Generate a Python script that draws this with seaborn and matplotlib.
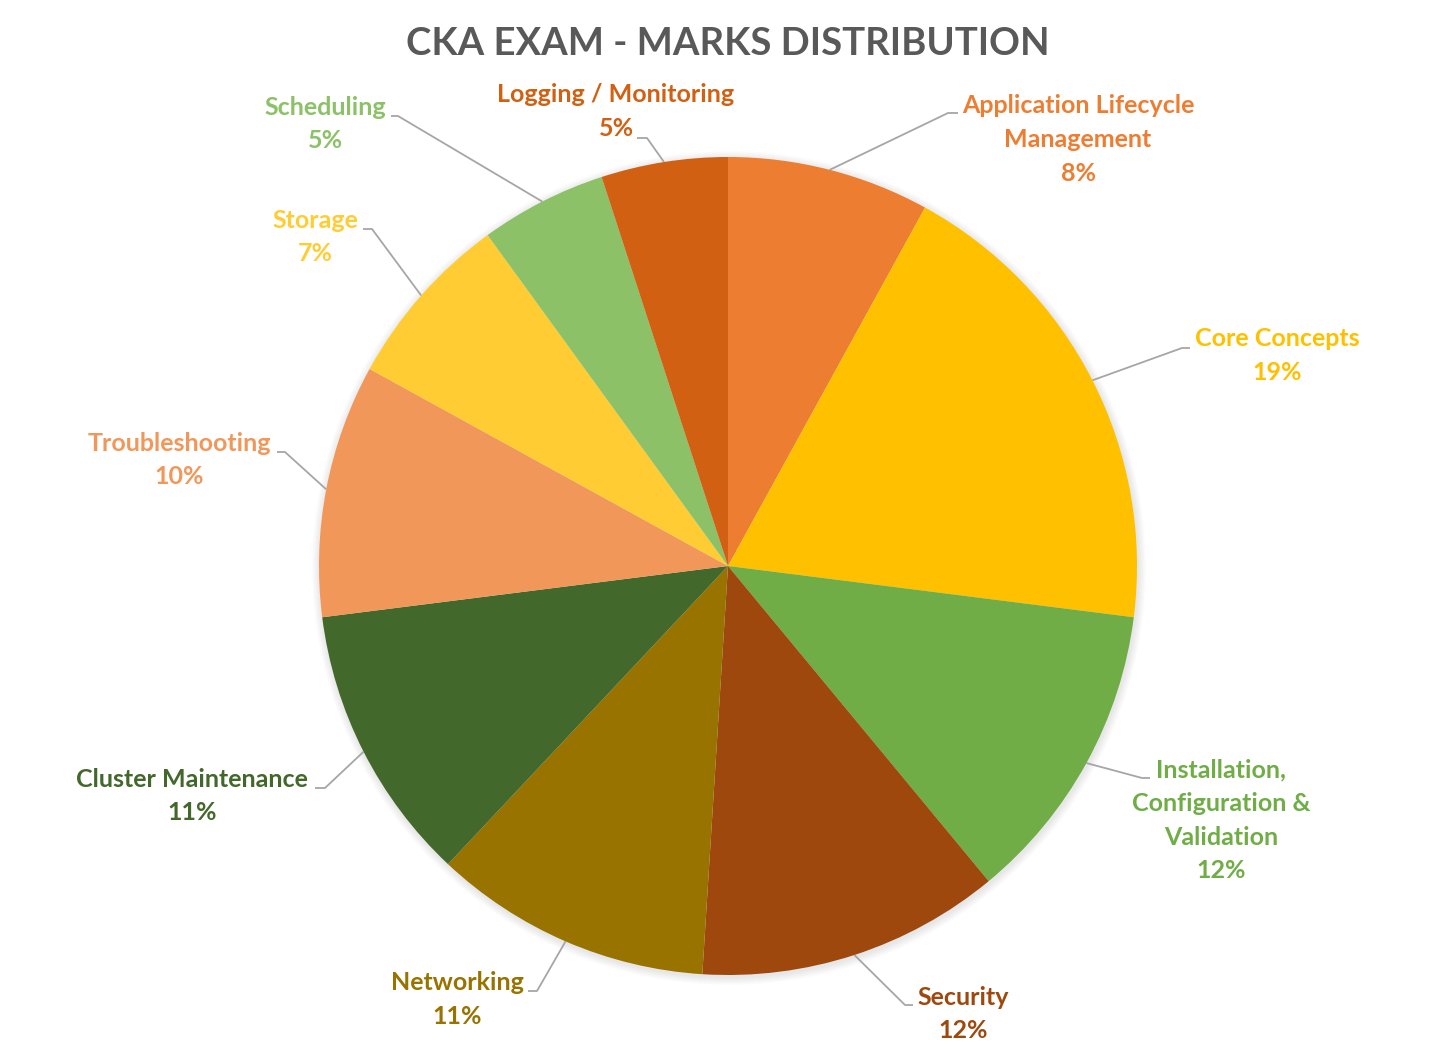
import numpy as np
import matplotlib
matplotlib.use("Agg")
import matplotlib.pyplot as plt
import seaborn as sns

# ---- data ----
categories = ["Application Lifecycle\nManagement", "Core Concepts",
              "Installation,\nConfiguration &\nValidation", "Security",
              "Networking", "Cluster Maintenance", "Troubleshooting",
              "Storage", "Scheduling", "Logging / Monitoring"]
values = [8, 19, 12, 12, 11, 11, 10, 7, 5, 5]
colors = ["#ED7D31", "#FFC000", "#70AD47", "#9E480E", "#997300",
          "#43682B", "#F1975A", "#FFCD33", "#8CC168", "#D26012"]
title = "CKA EXAM - MARKS DISTRIBUTION"

# ---- layout (pixel coordinates) ----
W, H = 1456, 1061
center = (728, 566)
radius = 409
label_pos = [(1078, 139.5), (1277, 355.5), (1221, 820.5), (963, 1014),
             (457, 999.5), (192, 796), (179, 460), (315, 237),
             (325, 124), (616, 111.5)]
elbow_pos = [(948, 113), (1182, 348), (1142, 778), (905, 1005),
             (537, 991), (325, 788), (285, 452), (372, 229),
             (398, 116), (647, 138)]
end_pos = [(958, 113), (1190, 348), (1150, 778), (913, 1005),
           (528, 991), (315, 788), (277, 452), (363, 229),
           (391, 116), (637, 138)]

sns.set_theme(style="white")
plt.rcParams["font.family"] = ["Lato", "DejaVu Sans"]

fig = plt.figure(figsize=(W / 100, H / 100), dpi=100)
ax = fig.add_axes([0, 0, 1, 1])

# soft shadow around the pie
for k in range(8):
    ax.add_patch(plt.Circle((center[0] + 1, center[1] + 2), radius + 8 - k,
                            color="black", alpha=0.012, lw=0, zorder=0))

wedges, _ = ax.pie(values, colors=colors, startangle=-90, counterclock=True,
                   center=center, radius=radius,
                   wedgeprops=dict(linewidth=0.5, edgecolor="none", zorder=2))
ax.set_xlim(0, W)
ax.set_ylim(H, 0)
ax.set_aspect("equal")
ax.axis("off")

total = float(sum(values))
cum = 0.0
for i, v in enumerate(values):
    mid = np.deg2rad(-90 + 360 * (cum + v / 2) / total)
    cum += v
    sx = center[0] + radius * np.cos(mid)
    sy = center[1] + radius * np.sin(mid)
    ex, ey = elbow_pos[i]
    tx, ty = end_pos[i]
    ax.plot([sx, ex, tx], [sy, ey, ey], color="#A6A6A6", lw=1.3,
            solid_capstyle="butt", zorder=1)
    ax.text(label_pos[i][0], label_pos[i][1], f"{categories[i]}\n{v}%",
            ha="center", va="center", multialignment="center",
            fontsize=18, fontweight="bold", color=colors[i], linespacing=1.56)

ax.text(728, 44, title, ha="center", va="center", fontsize=27.5,
        fontweight="bold", color="#595959")

fig.savefig("out.png", dpi=100, facecolor="white")
